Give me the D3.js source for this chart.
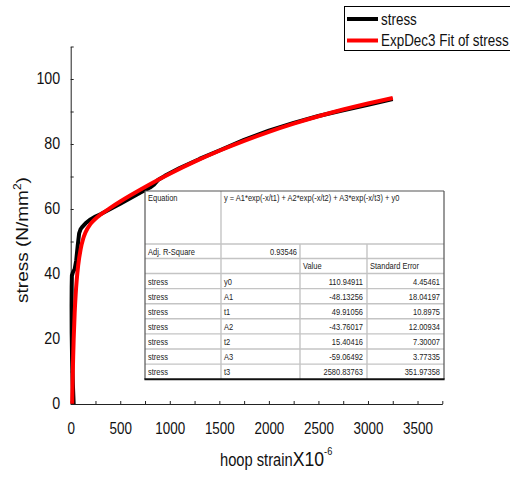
<!DOCTYPE html>
<html>
<head>
<meta charset="utf-8">
<script src="https://cdn.jsdelivr.net/npm/d3@7"></script>
<style>
  html, body { margin: 0; padding: 0; background: #fff; }
  svg { display: block; font-family: "Liberation Sans", Arial, sans-serif; }
</style>
</head>
<body>
<svg id="chart" width="510" height="477"></svg>
<script>
// Measured hoop strain (x10^-6) and stress (N/mm²)
const measuredStrain = [30, 22, 14, 10, 9, 10, 12, 22, 40, 55, 70, 85, 100, 120, 150, 200, 250, 300, 400, 500, 600, 700, 800, 840, 880, 950, 1100, 1300, 1500, 1750, 2000, 2250, 2500, 2750, 3000, 3250];
const measuredStress = [0, 6, 14, 22, 30, 36, 39.5, 40.5, 41.5, 44, 48.5, 52.5, 53.8, 54.6, 55.6, 56.8, 57.7, 58.4, 60.0, 61.6, 63.3, 65.0, 66.6, 67.5, 68.9, 70.2, 72.6, 75.4, 78.0, 81.3, 84.1, 86.5, 88.6, 90.4, 92.1, 93.8];

// ExpDec3 fitted curve
const fitStrain = [15, 20, 25, 30, 40, 50, 60, 75, 100, 125, 150, 200, 250, 300, 400, 500, 600, 800, 1000, 1250, 1500, 1750, 2000, 2250, 2500, 2750, 3000, 3250];
const fitStress = [0.06, 8.15, 14.65, 19.94, 27.94, 33.65, 37.89, 42.53, 47.57, 50.75, 52.84, 55.41, 57.02, 58.25, 60.35, 62.3, 64.14, 67.63, 70.86, 74.56, 77.92, 80.97, 83.74, 86.25, 88.53, 90.60, 92.48, 94.18];

// Fit report
const fitEquation = "y = A1*exp(-x/t1) + A2*exp(-x/t2) + A3*exp(-x/t3) + y0";
const adjRSquare = "0.93546";
const paramNames = ["y0", "A1", "t1", "A2", "t2", "A3", "t3"];
const paramValues = ["110.94911", "-48.13256", "49.91056", "-43.76017", "15.40416", "-59.06492", "2580.83763"];
const paramErrors = ["4.45461", "18.04197", "10.8975", "12.00934", "7.30007", "3.77335", "351.97358"];

// Axis ticks
const xTicks = [0, 250, 500, 750, 1000, 1250, 1500, 1750, 2000, 2250, 2500, 2750, 3000, 3250, 3500, 3750];
const xLabels = [0, 500, 1000, 1500, 2000, 2500, 3000, 3500];
const yTicks = [0, 10, 20, 30, 40, 50, 60, 70, 80, 90, 100, 110];
const yLabels = [0, 20, 40, 60, 80, 100];

const svg = d3.select("#chart");
svg.append("rect").attr("width", 510).attr("height", 477).attr("fill", "#fff");

const x = d3.scaleLinear().domain([0, 3750]).range([70.7, 442.3]);
const y = d3.scaleLinear().domain([0, 110]).range([404, 46.5]);
const SQ = 0.84; // narrow glyph look

// X axis
const gx = svg.append("g").attr("transform", `translate(0,${y(0)})`)
  .call(d3.axisBottom(x).tickValues(xTicks).tickSizeInner(-3).tickSizeOuter(0)
    .tickPadding(19).tickFormat(d => xLabels.includes(d) ? d : ""));
gx.select(".domain").attr("stroke", "#222");
gx.selectAll(".tick line").attr("stroke", "#222");
gx.selectAll(".tick text").attr("font-size", 16).attr("fill", "#111")
  .attr("font-family", "'Liberation Sans', Arial, sans-serif")
  .attr("transform", `scale(${SQ},1)`);

// Y axis
const gy = svg.append("g").attr("transform", `translate(${x(0)},0)`)
  .call(d3.axisLeft(y).tickValues(yTicks).tickSizeInner(-3).tickSizeOuter(0)
    .tickPadding(12.5).tickFormat(d => yLabels.includes(d) ? d : ""));
gy.select(".domain").attr("stroke", "#222");
gy.selectAll(".tick line").attr("stroke", "#222");
gy.selectAll(".tick text").attr("font-size", 17).attr("fill", "#111")
  .attr("font-family", "'Liberation Sans', Arial, sans-serif")
  .attr("dy", 4)
  .attr("transform", `scale(${SQ},1)`);

// Axis titles
const yTitle = svg.append("text")
  .attr("transform", `translate(28,240) scale(${SQ},1) rotate(-90)`)
  .attr("text-anchor", "middle").attr("font-size", 19).attr("fill", "#111");
yTitle.append("tspan").text("stress (N/mm");
yTitle.append("tspan").attr("font-size", 12).attr("dy", -8).text("2");
yTitle.append("tspan").attr("dy", 8).text(")");

const xTitle = svg.append("text")
  .attr("transform", `translate(220,466) scale(${SQ},1)`)
  .attr("font-size", 17.5).attr("fill", "#111");
xTitle.append("tspan").text("hoop strain");
xTitle.append("tspan").attr("font-size", 21).text("X10");
xTitle.append("tspan").attr("font-size", 11).attr("dy", -11).text("-6");

// Curves
const line = d3.line().x(d => x(d[0])).y(d => y(d[1]));
const fitLine = d3.line().x(d => x(d[0])).y(d => y(d[1])).curve(d3.curveMonotoneX);

svg.append("path").datum(d3.zip(measuredStrain, measuredStress))
  .attr("d", line).attr("fill", "none").attr("stroke", "#000")
  .attr("stroke-width", 4).attr("stroke-linejoin", "round");
svg.append("path").datum(d3.zip(fitStrain, fitStress))
  .attr("d", fitLine).attr("fill", "none").attr("stroke", "#ff0000")
  .attr("stroke-width", 4).attr("stroke-linejoin", "round");

// Fit report table
const cols = [145, 221, 300, 367, 444];
const tTop = 191, eqBottom = 244, adjBottom = 258.5, headBottom = 273.5, rowH = 15.1;
const tBottom = headBottom + rowH * paramNames.length;
const tbl = svg.append("g");
tbl.append("rect").attr("x", cols[0]).attr("y", tTop)
  .attr("width", cols[4] - cols[0]).attr("height", tBottom - tTop).attr("fill", "#fff");

const inner = "#c4c4c4";
function hline(yy, x1, x2, color, w) {
  tbl.append("line").attr("x1", x1).attr("x2", x2).attr("y1", yy).attr("y2", yy)
    .attr("stroke", color).attr("stroke-width", w);
}
function vline(xx, y1, y2, color, w) {
  tbl.append("line").attr("x1", xx).attr("x2", xx).attr("y1", y1).attr("y2", y2)
    .attr("stroke", color).attr("stroke-width", w);
}
[eqBottom, adjBottom, headBottom].concat(paramNames.slice(1).map((_, i) => headBottom + rowH * (i + 1)))
  .forEach(yy => hline(yy, cols[0], cols[4], inner, 1.4));
vline(cols[1], tTop, tBottom, inner, 1.4);
vline(cols[2], eqBottom, tBottom, inner, 1.4);
vline(cols[3], eqBottom, tBottom, inner, 1.4);
vline(cols[0], tTop, tBottom, "#555", 1.2);
vline(cols[4], tTop, tBottom, "#555", 1.2);
hline(tTop, cols[0], cols[4], "#555", 1.2);
hline(tBottom, cols[0] - 0.6, cols[4] + 0.6, "#111", 2);

function cell(txt, xx, yy, anchor) {
  tbl.append("text").attr("transform", `translate(${xx},${yy}) scale(0.88,1)`)
    .attr("text-anchor", anchor).attr("font-size", 8.5).attr("fill", "#222").text(txt);
}
cell("Equation", cols[0] + 3, tTop + 10, "start");
cell(fitEquation, cols[1] + 3, tTop + 10, "start");
cell("Adj. R-Square", cols[0] + 3, eqBottom + 10.5, "start");
cell(adjRSquare, cols[2] - 3, eqBottom + 10.5, "end");
cell("Value", cols[2] + 3, adjBottom + 10.5, "start");
cell("Standard Error", cols[3] + 3, adjBottom + 10.5, "start");
paramNames.forEach((name, i) => {
  const by = headBottom + rowH * i + 11;
  cell("stress", cols[0] + 3, by, "start");
  cell(name, cols[1] + 3, by, "start");
  cell(paramValues[i], cols[3] - 4, by, "end");
  cell(paramErrors[i], cols[4] - 4, by, "end");
});

// Legend
const lg = svg.append("g");
lg.append("rect").attr("x", 344.5).attr("y", 6.5).attr("width", 200).attr("height", 44)
  .attr("fill", "#fff").attr("stroke", "#000").attr("stroke-width", 1);
const legendItems = [
  { label: "stress", color: "#000", ly: 19, ty: 25 },
  { label: "ExpDec3 Fit of stress", color: "#ff0000", ly: 40.5, ty: 46 }
];
legendItems.forEach(it => {
  lg.append("line").attr("x1", 347).attr("x2", 378).attr("y1", it.ly).attr("y2", it.ly)
    .attr("stroke", it.color).attr("stroke-width", 4);
  lg.append("text").attr("transform", `translate(381,${it.ty}) scale(${SQ},1)`)
    .attr("font-size", 16).attr("fill", "#111").text(it.label);
});
</script>
</body>
</html>
